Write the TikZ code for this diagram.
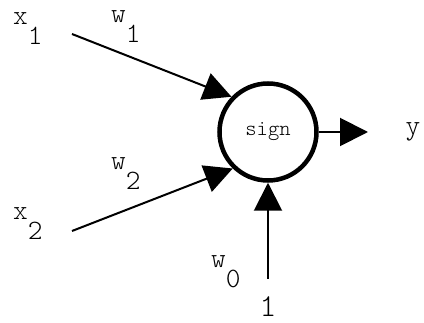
\documentclass[tikz,border=0pt]{standalone}
\usepackage{fontspec}
\setmonofont{Latin Modern Mono Light}
\usetikzlibrary{arrows.meta}

% letter with its lowered index, as in the figure
\newcommand{\lowidx}[2]{#1\raisebox{-19.5pt}{#2}}

\begin{document}
\begin{tikzpicture}[x=1pt, y=-1pt, font=\ttfamily\fontsize{28}{28}\selectfont,
    lab/.style={inner sep=0pt, anchor=base west},
    link/.style={line width=2pt, -{Triangle[length=28pt, width=28pt]}}]
    \useasboundingbox (0,0) rectangle (424,323);

    % --- Unit ---
    \node[circle, draw, line width=4.5pt, minimum size=97pt, inner sep=0pt,
          font=\ttfamily\fontsize{21.5}{21.5}\selectfont] (sign) at (268,132) {sign};

    % Inputs
    \node[lab] (x1) at (13,25) {\lowidx{x}{1}};
    \node[lab] (x2) at (13,220) {\lowidx{x}{2}};
    \node[inner sep=0pt, anchor=base, font=\ttfamily\fontsize{32}{32}\selectfont] (one) at (268,317) {1};
    \coordinate (in1) at (72,34);
    \coordinate (in2) at (72,231);
    \coordinate (in0) at (268,279);

    % Weights
    \node[lab] (w1) at (111,23) {\lowidx{w}{1}};
    \node[lab] (w2) at (111,170) {\lowidx{w}{2}};
    \node[lab] (w0) at (211,268) {\lowidx{w}{0}};

    % Connections
    \draw[link] (in1) -- (sign.136);
    \draw[link] (in2) -- (sign.226);
    \draw[link] (in0) -- (sign.south);

    % Output
    \coordinate (out) at (368,132);
    \draw[link] (sign.east) -- (out);
    \node[inner sep=0pt] (y) at (413,132) {y};
\end{tikzpicture}
\end{document}
